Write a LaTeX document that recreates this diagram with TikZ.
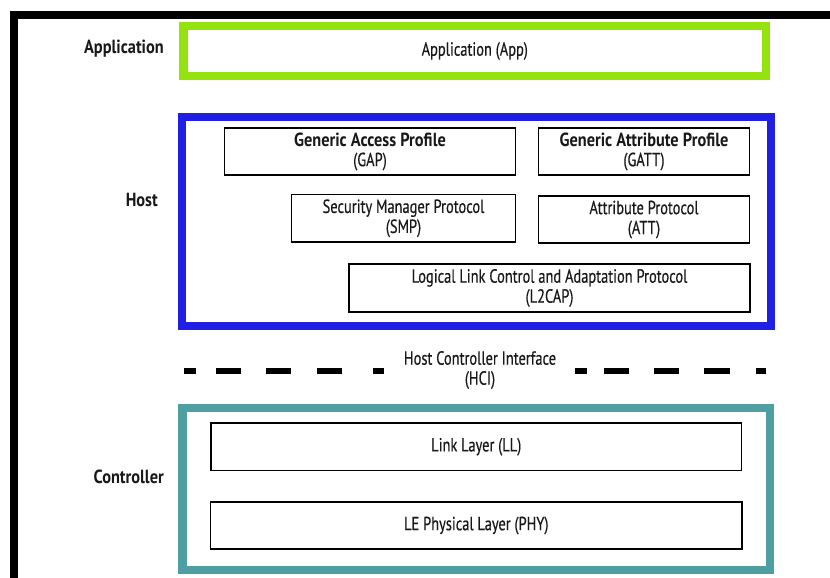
\documentclass[tikz,border=0pt]{standalone}
\usepackage{fontspec}
\setmainfont{PT Sans}[FakeStretch=0.76, FakeBold=0.45]
\newfontfamily\boldf{PT Sans}[FakeStretch=0.86]
\definecolor{appgreen}{RGB}{148,226,14}
\definecolor{hostblue}{RGB}{32,32,228}
\definecolor{ctrlteal}{RGB}{78,158,162}
\definecolor{txt}{RGB}{25,25,25}
\newcommand{\bl}[1]{{\boldf\bfseries #1}}
\tikzset{
  txtfont/.style={font=\fontsize{19}{20}\selectfont, text=txt},
  layer/.style={draw=black, line width=1.6pt, fill=white, inner sep=0pt, align=center, txtfont},
  group/.style={line width=8.5pt, inner sep=0pt},
  side/.style={font=\boldf\bfseries\fontsize{19}{20}\selectfont, text=txt, anchor=east, inner sep=0pt},
  hciline/.style={line width=6pt, line cap=butt}
}
\begin{document}
\begin{tikzpicture}[x=1pt,y=-1pt]
\useasboundingbox[fill=white] (0,0) rectangle (830,578);
% outer black frame (top and left)
\draw[line width=8pt] (830,15) -- (14,15) -- (14,578);
% group boxes
\node[group, draw=appgreen, minimum width=582.5pt, minimum height=50pt] (app) at (474.75,51) {};
\node[group, draw=hostblue, minimum width=589pt, minimum height=209pt] (host) at (476.5,221.5) {};
\node[group, draw=ctrlteal, minimum width=587.5pt, minimum height=162pt] (ctrl) at (476.25,489) {};
% app text
\node[txtfont, inner sep=0pt] (apptext) at (app.center) {Application (App)};
% side labels
\node[side] (lapp) at (164,49) {Application};
\node[side] (lhost) at (158,200) {Host};
\node[side] (lctrl) at (164,477) {Controller};
% host layers
\node[layer, minimum width=291pt, minimum height=47pt] (gap) at (370,151.5) {\bl{Generic Access Profile}\\(GAP)};
\node[layer, minimum width=211pt, minimum height=47pt] (gatt) at (644,151.5) {\bl{Generic Attribute Profile}\\(GATT)};
\node[layer, minimum width=224pt, minimum height=47.5pt] (smp) at (403.5,218.25) {Security Manager Protocol\\(SMP)};
\node[layer, minimum width=211pt, minimum height=47pt] (att) at (644,219.5) {Attribute Protocol\\(ATT)};
\node[layer, minimum width=401pt, minimum height=48pt] (l2cap) at (549.5,288) {Logical Link Control and Adaptation Protocol\\(L2CAP)};
% controller layers
\node[layer, minimum width=530.5pt, minimum height=47.5pt] (ll) at (476.25,446.75) {Link Layer (LL)};
\node[layer, minimum width=531.5pt, minimum height=47pt] (phy) at (476.25,525.5) {LE Physical Layer (PHY)};
% HCI
\node[txtfont, align=center, inner sep=0pt] (hci) at (480,370) {Host Controller Interface\\(HCI)};
\coordinate (hciL) at (184,371);
\coordinate (hciLe) at (384,371);
\coordinate (hciRs) at (575,371);
\coordinate (hciR) at (766,371);
\draw[hciline, dash pattern=on 12pt off 20pt on 25pt off 25pt on 25pt off 26pt on 25pt off 31pt on 11pt off 100pt] (hciL) -- (hciLe);
\draw[hciline, dash pattern=on 12pt off 17pt on 25pt off 25pt on 25pt off 25pt on 26pt off 26pt on 10pt off 100pt] (hciRs) -- (hciR);
\end{tikzpicture}
\end{document}
